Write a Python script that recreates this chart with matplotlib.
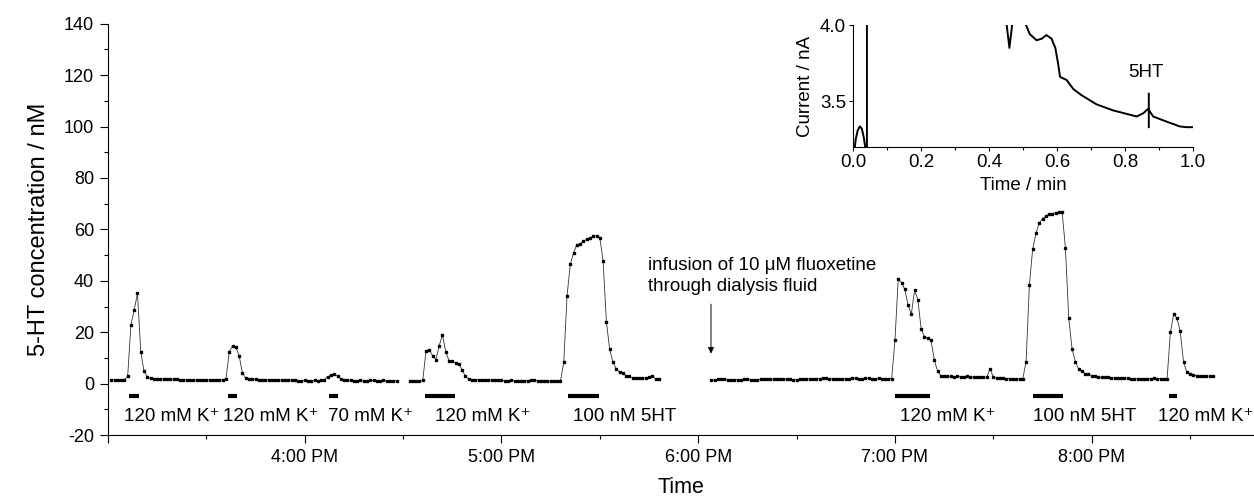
import numpy as np
import matplotlib
matplotlib.use('Agg')
import matplotlib.pyplot as plt

plt.rcParams['font.family'] = ['Liberation Sans', 'DejaVu Sans']
plt.rcParams['axes.unicode_minus'] = False

# one sample per minute, minutes counted from 3:00 PM
seg1_start = 1
seg1_vals = [1.6, 1.5, 1.3, 1.6, 1.4,
             2.8, 22.9, 28.7, 35.1, 12.5, 4.8, 2.6, 2.1,
             2.0, 2.0, 1.9, 1.9, 1.8, 1.8, 1.7, 1.7, 1.6, 1.6, 1.5, 1.5, 1.5, 1.4, 1.4, 1.4, 1.5, 1.4, 1.4, 1.5, 1.6, 1.4,
             2.0, 12.5, 14.7, 14.2, 10.9, 4.1, 2.2,
             1.8, 1.7, 1.7, 1.6, 1.6, 1.5, 1.5, 1.4, 1.4, 1.4, 1.3, 1.3, 1.3, 1.4, 1.3, 1.2, 1.2, 1.3, 1.2, 1.2, 1.3, 1.2, 1.3,
             1.6, 2.6, 3.4, 3.7, 3.0, 1.9, 1.5,
             1.3, 1.3, 1.2, 1.2, 1.3, 1.2, 1.2, 1.3, 1.3, 1.2, 1.2, 1.3, 1.1, 1.1, 1.1, 1.1]

seg2_start = 92
seg2_vals = [0.9, 0.9, 1.0, 1.0, 1.3,
             12.8, 13.2, 10.9, 9.3, 14.7, 19.0, 12.5, 9.0, 9.0, 8.0, 7.7, 5.4, 2.8, 1.8,
             1.6, 1.5, 1.5, 1.4, 1.4, 1.4, 1.3, 1.3, 1.4, 1.3, 1.2, 1.2, 1.3, 1.2, 1.1, 1.2, 1.2, 1.1, 1.3, 1.4,
             1.2, 1.1, 1.2, 1.0, 1.0, 1.1, 1.0, 1.0,
             8.3, 34.2, 46.4, 50.9, 54.1, 54.3, 55.4, 56.1, 56.7, 57.4, 57.4, 56.7, 47.7, 24.1, 13.4, 8.4,
             5.7, 4.4, 4.1, 3.1, 2.8, 2.2, 2.2, 2.2, 2.1, 2.2, 2.6, 3.1, 1.8, 1.8]

seg3_start = 184
seg3_vals = [1.5, 1.3, 1.8, 2.0, 1.7, 1.6, 1.5, 1.5, 1.6, 1.6,
             1.7, 1.7, 1.6, 1.6, 1.6, 1.7, 1.7, 1.8, 1.8, 1.7,
             1.7, 1.8, 1.8, 1.7, 1.7, 1.6, 1.6, 1.7, 1.8, 1.8,
             1.9, 1.9, 2.0, 2.0, 2.1, 2.1, 2.0, 1.9, 1.9, 2.0,
             1.8, 1.9, 2.0, 2.1, 2.1, 2.0, 2.0, 2.1, 2.1, 2.0,
             2.0, 2.1, 2.0, 2.0, 2.0, 2.0,
             16.8, 40.6, 39.3, 36.7, 30.6, 27.1, 36.4, 32.6, 21.2, 18.3, 17.7, 16.8, 9.3, 4.8, 3.1,
             2.8, 2.8, 2.8, 2.7, 2.8, 2.7, 2.6, 2.8, 2.6, 2.5, 2.6, 2.5, 2.4, 2.5,
             5.8,
             2.6, 2.2, 2.2, 2.1, 2.0, 1.9, 1.8, 1.8, 1.9, 2.0,
             8.6, 38.4, 52.3, 58.4, 62.5, 64.2, 65.1, 65.9, 66.1, 66.5, 66.7, 66.6, 52.6, 25.5, 13.6, 8.6,
             5.7, 4.8, 3.9, 3.9, 3.1,
             2.8, 2.6, 2.4, 2.4, 2.5, 2.3, 2.2, 2.2, 2.2, 2.1, 2.1, 2.0, 1.9, 1.9, 1.8, 1.8, 2.0, 1.9, 2.1, 2.0,
             2.0, 2.0, 2.0,
             19.9, 27.0, 25.5, 20.3, 8.6, 4.4, 3.9, 3.5, 3.1, 3.0, 2.8, 3.0, 2.9, 2.8]

# stimulation periods (minutes) and their labels
bar_start = [6.4, 36.6, 67.4, 96.6, 140.3, 240.0, 282.0, 323.7]
bar_end = [9.5, 39.2, 70.2, 105.7, 149.8, 250.8, 291.3, 326.1]
stim_labels = ['120 mM K\u207a', '120 mM K\u207a', '70 mM K\u207a', '120 mM K\u207a',
               '100 nM 5HT', '120 mM K\u207a', '100 nM 5HT', '120 mM K\u207a']
stim_label_x = [19.4, 49.6, 80.1, 114.4, 157.6, 256.0, 297.9, 334.8]

hour_ticks = [0, 60, 120, 180, 240, 300]
hour_labels = ['', '4:00 PM', '5:00 PM', '6:00 PM', '7:00 PM', '8:00 PM']

# inset: amperometric current trace
inset_x = [0.000, 0.008, 0.014, 0.020, 0.026, 0.032, 0.037, 0.040, np.nan,
           0.041, 0.041, np.nan,
           0.452, 0.460, 0.468, np.nan,
           0.505, 0.520, 0.540, 0.555, 0.569, 0.584, 0.595, 0.603, 0.609, 0.618, 0.628, 0.648, 0.672,
           0.716, 0.765, 0.800, 0.834, 0.853, 0.868, 0.883, 0.912, 0.961, 0.980, 1.000, np.nan,
           0.870, 0.870]
inset_y = [3.10, 3.25, 3.31, 3.335, 3.32, 3.26, 3.18, 3.10, np.nan,
           3.10, 4.10, np.nan,
           4.00, 3.85, 4.00, np.nan,
           4.02, 3.94, 3.90, 3.91, 3.934, 3.91, 3.85, 3.75, 3.66, 3.65, 3.64, 3.58, 3.54,
           3.48, 3.44, 3.42, 3.40, 3.42, 3.45, 3.40, 3.375, 3.335, 3.33, 3.33, np.nan,
           3.33, 3.55]

fig = plt.figure(figsize=(12.54, 5.03), dpi=100)
ax = fig.add_axes([0.0861, 0.135, 0.9139, 0.818])

for start, vals in [(seg1_start, seg1_vals), (seg2_start, seg2_vals), (seg3_start, seg3_vals)]:
    t = np.arange(start, start + len(vals))
    ax.plot(t, vals, color='#333333', lw=0.6, marker='s', ms=1.6, mec='black', mfc='black')

ax.hlines([-4.7] * len(bar_start), bar_start, bar_end, colors='black', lw=3)
for x, s in zip(stim_label_x, stim_labels):
    ax.text(x, -12.6, s, ha='center', va='center', fontsize=13.5)

ax.annotate('', xy=(183.9, 10.6), xytext=(183.9, 32.0),
            arrowprops=dict(arrowstyle='-|>', lw=0.7, color='black', mutation_scale=9))
ax.text(164.7, 41.9, 'infusion of 10 \u03bcM fluoxetine\nthrough dialysis fluid',
        ha='left', va='center', fontsize=13.5, linespacing=1.25)

ax.set_xlim(0, 349.5)
ax.set_ylim(-20, 140)
ax.set_xticks(hour_ticks)
ax.set_xticklabels(hour_labels)
ax.set_xticks([30, 90, 150, 210, 270, 330], minor=True)
ax.set_yticks(np.arange(-20, 141, 20))
ax.set_yticks(np.arange(-10, 141, 20), minor=True)
ax.tick_params(which='major', direction='out', length=6, width=0.8, labelsize=13, pad=4)
ax.tick_params(which='minor', direction='out', length=3, width=0.8)
for side in ['top', 'right']:
    ax.spines[side].set_visible(False)
for side in ['left', 'bottom']:
    ax.spines[side].set_linewidth(0.8)
ax.set_ylabel('5-HT concentration / nM', fontsize=17, labelpad=10)
ax.set_xlabel('Time', fontsize=15.5, labelpad=8)

# inset
ins = fig.add_axes([853 / 1254, (503 - 147) / 503, 340 / 1254, 122 / 503])
ins.patch.set_alpha(0)
ins.plot(inset_x, inset_y, color='black', lw=1.4)
ins.text(0.862, 3.69, '5HT', ha='center', va='center', fontsize=13.5)
ins.set_xlim(0, 1.0)
ins.set_ylim(3.2, 4.0)
ins.set_xticks([0.0, 0.2, 0.4, 0.6, 0.8, 1.0])
ins.set_xticks([0.1, 0.3, 0.5, 0.7, 0.9], minor=True)
ins.set_yticks([3.5, 4.0])
ins.tick_params(which='major', direction='out', length=3, width=0.8, labelsize=13.5, pad=2)
ins.tick_params(which='minor', direction='out', length=2, width=0.8)
for side in ['top', 'right']:
    ins.spines[side].set_visible(False)
for side in ['left', 'bottom']:
    ins.spines[side].set_linewidth(0.8)
ins.set_xlabel('Time / min', fontsize=13.5, labelpad=4)
ins.set_ylabel('Current / nA', fontsize=13.5, labelpad=4)

fig.savefig('out.png', dpi=100)
